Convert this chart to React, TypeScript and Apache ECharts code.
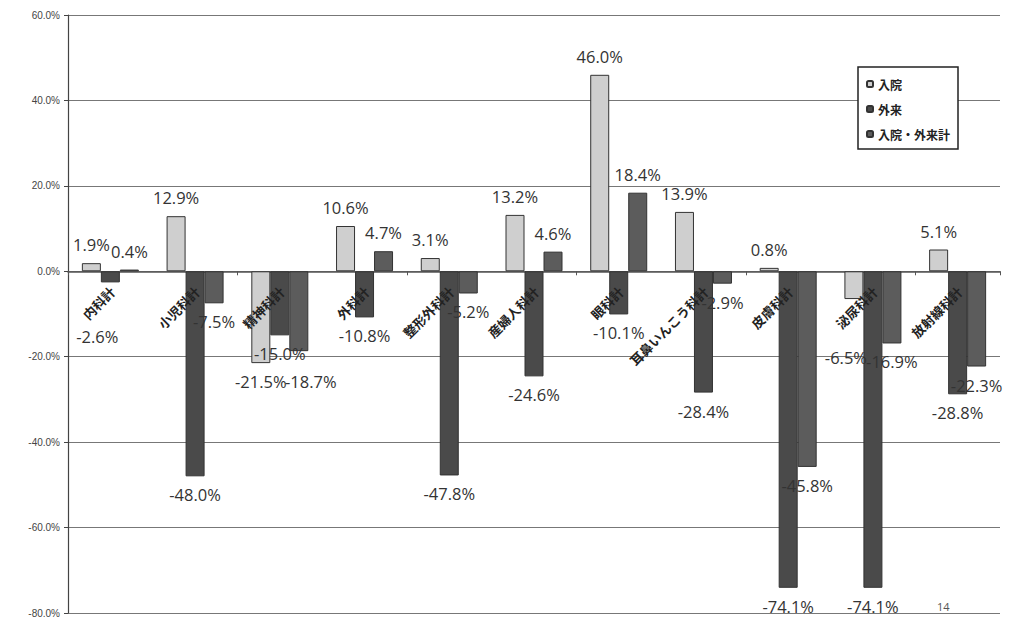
import React, { useEffect, useRef } from "react";
import * as echarts from "echarts";

const categories = [
  "内科計",
  "小児科計",
  "精神科計",
  "外科計",
  "整形外科計",
  "産婦人科計",
  "眼科計",
  "耳鼻いんこう科計",
  "皮膚科計",
  "泌尿科計",
  "放射線科計",
];
const nyuin = [1.9, 12.9, -21.5, 10.6, 3.1, 13.2, 46.0, 13.9, 0.8, -6.5, 5.1];
const gairai = [-2.6, -48.0, -15.0, -10.8, -47.8, -24.6, -10.1, -28.4, -74.1, -74.1, -28.8];
const total = [0.4, -7.5, -18.7, 4.7, -5.2, 4.6, 18.4, -2.9, -45.8, -16.9, -22.3];
const seriesNames = ["入院", "外来", "入院・外来計"];
const yTicks = { min: -80, max: 60, interval: 20 };
const pageNumber = "14";

// layout-only tweaks: label shifts [dx, dy] (px) for labels moved in the original
const labelNudges: Record<string, number[]> = {
  "1-0": [-13, 36],
  "0-9": [-8, 40],
  "2-2": [12, 12],
};

const labelFont = "'Open Sans', 'Noto Sans', sans-serif";
const cjkFont = "'Noto Sans CJK JP', sans-serif";

function toItems(vals: number[], si: number) {
  return vals.map((v, di) => {
    const nudge = labelNudges[si + "-" + di] || [0, 0];
    return {
      value: v,
      label: { position: v < 0 ? "bottom" : "top", offset: nudge },
    };
  });
}

export default function App() {
  const ref = useRef<HTMLDivElement>(null);
  useEffect(() => {
    if (!ref.current) return;
    const chart = echarts.init(ref.current, null, { renderer: "svg" });
    const barLabel = {
      show: true,
      formatter: (p: any) => Number(p.value).toFixed(1) + "%",
      fontSize: 16.5,
      color: "#333",
      fontFamily: labelFont,
      distance: 10,
    };
    const colors = ["#cfcfcf", "#4a4a4a", "#5c5c5c"];
    const datas = [nyuin, gairai, total];
    const allSeries: any[] = datas.map((d, i) => ({
      name: seriesNames[i],
      type: "bar",
      data: toItems(d, i),
      barWidth: 19,
      barGap: "0%",
      barCategoryGap: "33%",
      itemStyle: { color: colors[i], borderColor: "#333", borderWidth: 1 },
      label: barLabel,
    }));
    allSeries.push({
      type: "custom",
      name: "categoryLabels",
      silent: true,
      z: 10,
      data: categories.map((c, i) => [i, 0]),
      renderItem: (params: any, api: any) => {
        const idx = api.value(0);
        const p = api.coord([idx, 0]);
        return {
          type: "text",
          x: p[0] + 2,
          y: p[1] + 18,
          rotation: Math.PI / 4,
          style: {
            text: categories[idx],
            align: "right",
            verticalAlign: "middle",
            fontSize: 13,
            fontWeight: "bold",
            fill: "#222",
            fontFamily: cjkFont,
          },
        };
      },
    });
    chart.setOption({
      animation: false,
      backgroundColor: "#ffffff",
      grid: {
        left: 60,
        right: 10,
        top: 7,
        bottom: 7,
        containLabel: false,
        outerBoundsMode: "none",
      },
      legend: {
        orient: "vertical",
        left: 850,
        top: 59,
        padding: [11, 8, 9, 8],
        itemGap: 13,
        itemWidth: 6,
        itemHeight: 6,
        borderColor: "#222",
        borderWidth: 1.5,
        backgroundColor: "#fff",
        textStyle: {
          fontSize: 12,
          fontWeight: "bold",
          color: "#222",
          fontFamily: cjkFont,
        },
        data: seriesNames,
      },
      xAxis: {
        type: "category",
        data: categories,
        axisLine: { onZero: true, lineStyle: { color: "#555", width: 1.5 } },
        axisTick: { show: true, length: 4, lineStyle: { color: "#555" } },
        axisLabel: { show: false },
      },
      yAxis: {
        type: "value",
        min: yTicks.min,
        max: yTicks.max,
        interval: yTicks.interval,
        axisLine: { show: true, lineStyle: { color: "#444", width: 1.2 } },
        axisTick: { show: true, length: 4, lineStyle: { color: "#444" } },
        axisLabel: {
          formatter: (v: number) => v.toFixed(1) + "%",
          fontSize: 10,
          color: "#444",
          margin: 8,
          fontFamily: "'Liberation Sans', sans-serif",
        },
        splitLine: { show: true, lineStyle: { color: "#777", width: 1.2 } },
      },
      series: allSeries,
      graphic: [
        {
          type: "text",
          left: 929,
          top: 593,
          style: { text: pageNumber, fontSize: 11, fill: "#555", fontFamily: labelFont },
        },
      ],
    });
    return () => chart.dispose();
  }, []);
  return <div ref={ref} style={{ width: 1002, height: 612 }} />;
}
